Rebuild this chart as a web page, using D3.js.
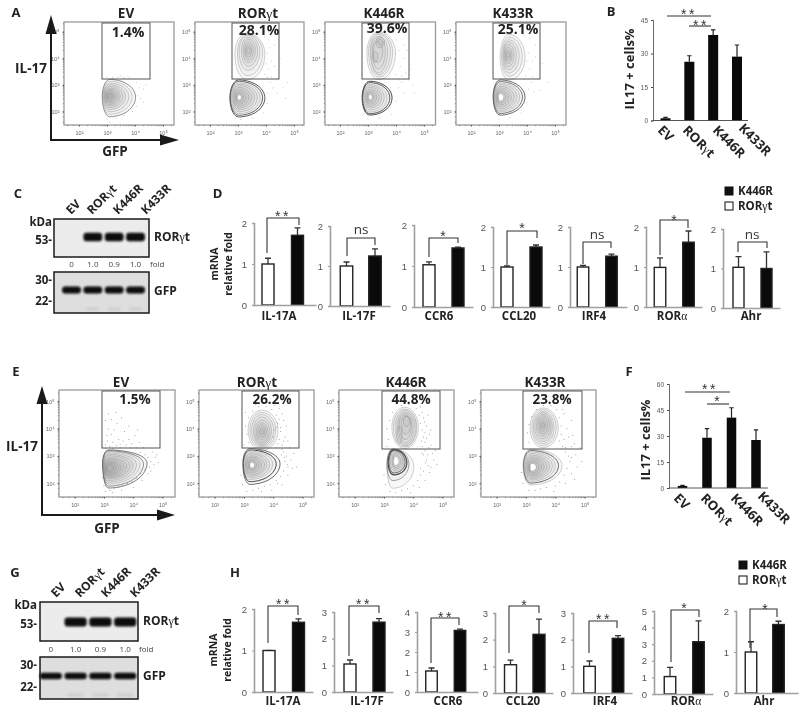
<!DOCTYPE html>
<html><head><meta charset="utf-8">
<script src="https://cdn.jsdelivr.net/npm/d3@7"></script>
<style>html,body{margin:0;padding:0;background:#fff}svg{display:block;filter:blur(.35px)}</style>
</head><body><script>
// ---------- bar-chart data ----------
const constructs=["EV","RORγt","K446R","K433R"];
const bValues=[1.0,26.3,38.3,28.6], bErrors=[1.4,29,40.6,33.8];
const fValues=[1.2,29,40.6,27.7], fErrors=[1.5,34.2,46.3,33.5];
const foldC=[0,1.0,0.9,1.0], foldG=[0,1.0,0.9,1.0];
const gfpBands=[1,1,1,1];
const markersD=["IL-17A","IL-17F","CCR6","CCL20","IRF4","RORα","Ahr"];
const maxD=[2,2,2,2,2,2,2];
const rorD=[1.0,1.0,1.03,1.0,1.0,0.99,1.03], rorErrD=[1.14,1.1,1.1,1.03,1.04,1.23,1.3];
const kD=[1.7,1.25,1.44,1.5,1.27,1.62,1.0], kErrD=[1.88,1.43,1.46,1.55,1.32,1.9,1.42];
const sigD=["**","ns","*","*","ns","*","ns"];
const markersH=["IL-17A","IL-17F","CCR6","CCL20","IRF4","RORα","Ahr"];
const maxH=[2,3,4,3,3,5,2];
const rorH=[1.0,1.05,1.05,1.06,1.0,1.05,1.0], rorErrH=[1.0,1.2,1.2,1.23,1.2,1.6,1.25];
const kH=[1.68,2.62,3.08,2.2,2.05,3.15,1.67], kErrH=[1.76,2.75,3.14,2.77,2.15,4.4,1.75];
const sigH=["**","**","**","*","**","*","*"];
const percentA=["1.4%","28.1%","39.6%","25.1%"], percentE=["1.5%","26.2%","44.8%","23.8%"];
const flowDecades=[2,3,4,5];

// ---------- flow contours, in decades: [centreX,centreY,left,right,top,bottom,(weight)] ----------
const ringsAEV=[[3.1,2.55,.27,.92,.66,.74,.6],[3.1,2.56,.25,.8,.58,.66],[3.1,2.57,.23,.68,.5,.58],[3.1,2.58,.21,.56,.43,.5],[3.1,2.58,.19,.46,.37,.43],[3.1,2.58,.17,.37,.31,.37],[3.1,2.58,.15,.29,.26,.31],[3.1,2.58,.13,.22,.21,.26],[3.1,2.58,.1,.16,.16,.2],[3.1,2.58,.08,.11,.11,.14],[3.1,2.58,.05,.06,.07,.08]];
const ringsARor=[[3.02,2.52,.31,.94,.67,.72,.9],[3.02,2.52,.29,.86,.62,.66,.8],[3.03,2.52,.27,.76,.56,.6],[3.03,2.53,.24,.66,.5,.54],[3.03,2.54,.21,.56,.44,.47],[3.03,2.54,.18,.46,.37,.4],[3.03,2.54,.15,.36,.3,.33],[3.03,2.54,.12,.26,.23,.26],[3.03,2.54,.09,.17,.16,.18],[3.03,2.54,.05,.09,.09,.1],
[3.32,4.15,.43,.64,.8,.95],[3.34,4.2,.36,.54,.7,.85],[3.34,4.25,.3,.44,.62,.7],[3.36,4.28,.24,.34,.52,.58],[3.36,4.3,.18,.26,.42,.46],[3.36,4.3,.13,.19,.32,.36],[3.36,4.3,.09,.13,.22,.25],[3.36,4.3,.05,.08,.12,.14]];
const ringsAK446=[[3.06,2.52,.27,.8,.62,.65,1],[3.06,2.52,.25,.72,.57,.6,.9],[3.06,2.52,.23,.62,.5,.54],[3.06,2.53,.2,.52,.44,.47],[3.07,2.54,.17,.42,.37,.4],[3.07,2.54,.14,.33,.3,.33],[3.07,2.54,.11,.24,.23,.26],[3.07,2.55,.08,.16,.16,.18],[3.07,2.55,.05,.08,.09,.1],
[3.38,4.2,.42,.6,.8,1.0],[3.38,4.25,.36,.5,.7,.95],[3.38,4.28,.3,.42,.62,.9],[3.36,4.3,.25,.34,.52,.85],[3.36,4.3,.2,.26,.44,.7],[3.33,4.25,.14,.2,.4,.4],[3.42,4.6,.13,.17,.22,.2],[3.43,4.6,.07,.1,.12,.1],[3.25,4.05,.08,.1,.2,.2]];
const ringsAK433=[[3.04,2.55,.25,.89,.64,.68,.8],[3.04,2.55,.23,.8,.58,.62,.7],[3.04,2.55,.21,.7,.52,.56],[3.04,2.55,.19,.6,.46,.5],[3.04,2.55,.16,.5,.4,.44],[3.04,2.55,.14,.4,.34,.37],[3.04,2.55,.11,.3,.27,.3],[3.04,2.55,.09,.21,.2,.23],[3.04,2.55,.06,.13,.13,.15],
[3.36,4.05,.32,.57,.85,.86],[3.36,4.08,.27,.47,.72,.75],[3.35,4.1,.22,.37,.6,.65],[3.34,4.12,.18,.28,.5,.55],[3.33,4.13,.14,.21,.4,.44],[3.32,4.13,.1,.15,.3,.33],[3.32,4.13,.07,.1,.2,.22],[3.32,4.13,.04,.06,.1,.12]];
const ringsEEV=[[3.15,2.75,.2,1.32,.47,.92,.7],[3.15,2.72,.19,1.2,.47,.82,.6],[3.15,2.72,.18,1.08,.44,.74],[3.15,2.7,.17,.96,.41,.66],[3.15,2.68,.16,.84,.38,.58],[3.15,2.66,.15,.74,.35,.5],[3.16,2.62,.14,.62,.32,.42],[3.16,2.6,.13,.52,.29,.36],[3.16,2.58,.12,.42,.25,.3],[3.17,2.57,.1,.33,.21,.25],[3.17,2.57,.08,.24,.17,.2],[3.17,2.57,.06,.16,.12,.15]];
const ringsERor=[[3.2,2.72,.24,1.03,.55,.76,.8],[3.2,2.72,.22,.9,.5,.66,1],[3.2,2.72,.2,.78,.46,.58],[3.22,2.7,.19,.66,.42,.5],[3.22,2.7,.17,.56,.38,.44],[3.24,2.68,.16,.46,.33,.37],[3.24,2.68,.14,.36,.28,.3],[3.25,2.68,.11,.27,.22,.24],[3.25,2.68,.09,.18,.16,.18],[3.26,2.67,.06,.1,.1,.11],
[3.6,3.95,.46,.56,.73,.75],[3.6,3.95,.4,.48,.65,.68],[3.6,3.95,.34,.41,.57,.62],[3.6,3.93,.28,.34,.5,.55],[3.6,3.9,.23,.28,.42,.48],[3.6,3.88,.18,.22,.34,.4],[3.6,3.88,.13,.16,.26,.3],[3.61,3.88,.08,.1,.17,.2],[3.61,3.88,.04,.06,.08,.1]];
const ringsEK446=[[3.3,2.6,.2,.72,.65,.78],[3.3,2.7,.2,.55,.56,.6,.5],[3.34,2.75,.2,.44,.48,.44,1.2],[3.34,2.76,.17,.38,.44,.38,.8],[3.36,2.78,.14,.32,.38,.33],[3.38,2.8,.11,.26,.32,.28],[3.38,2.8,.08,.2,.25,.22],[3.38,2.8,.05,.13,.18,.15],
[3.7,4.05,.43,.47,.74,.78],[3.7,4.05,.38,.42,.67,.72],[3.72,4.08,.34,.37,.6,.72],[3.72,4.1,.28,.32,.52,.7],[3.72,4.12,.24,.27,.45,.65],[3.72,4.15,.2,.22,.36,.55],[3.74,4.2,.15,.17,.26,.4],[3.76,4.3,.1,.12,.16,.22],[3.52,3.8,.09,.1,.3,.35]];
const ringsEK433=[[3.15,2.65,.25,1.08,.6,.71],[3.15,2.65,.23,.96,.55,.64,.8],[3.15,2.65,.21,.85,.5,.58],[3.16,2.64,.19,.74,.45,.52],[3.17,2.63,.17,.63,.4,.46],[3.18,2.62,.15,.53,.35,.4],[3.19,2.61,.13,.43,.3,.34],[3.2,2.6,.11,.33,.25,.28],[3.2,2.6,.09,.24,.19,.22],[3.2,2.6,.06,.15,.13,.15],
[3.58,4.03,.44,.52,.73,.73],[3.58,4.05,.38,.45,.65,.68],[3.58,4.05,.33,.38,.58,.6],[3.58,4.08,.28,.32,.5,.55],[3.58,4.1,.23,.27,.42,.47],[3.58,4.13,.18,.22,.34,.4],[3.58,4.13,.13,.16,.26,.32],[3.58,4.13,.08,.1,.17,.22],[3.58,4.13,.04,.05,.09,.12]];

// ---------- flow events outside the contours, in decades: [x,y] ----------
const dotsAEV=[[3.0,3.3],[3.2,3.28],[3.4,3.3],[3.6,3.27],[3.8,3.25],[4.05,3.1],[4.15,2.9],[4.3,2.85],[4.1,2.6],[4.2,2.5],[4.4,3.0],[3.9,2.0],[3.6,1.85],[3.3,1.75],[3.0,1.72],[3.1,1.6],[3.75,3.32],[4.05,2.2],[4.3,2.35],[3.5,3.35]];
const dotsARor=[[3.95,3.4],[4.1,3.6],[4.2,3.9],[4.05,4.2],[4.3,4.5],[4.1,4.7],[3.95,4.8],[4.4,3.2],[4.15,3.1],[4.25,2.9],[4.05,2.7],[4.4,2.7],[4.6,2.9],[4.05,2.3],[3.9,1.95],[3.5,1.75],[3.1,1.7],[2.9,1.75],[4.2,3.3],[4.5,4.0],[4.3,3.7],[4.0,3.8],[4.15,4.4],[4.05,3.3],[4.75,3.1],[4.7,2.5]];
const dotsAK446=[[4.0,3.4],[4.15,3.7],[4.3,4.0],[4.1,4.3],[4.3,4.5],[4.0,4.7],[4.45,3.2],[4.2,3.1],[4.1,2.9],[4.3,2.7],[4.0,2.4],[3.85,1.9],[3.4,1.75],[3.0,1.72],[4.5,3.6],[4.2,3.35],[4.6,3.0],[4.4,4.3],[4.1,3.2],[4.35,3.45],[2.85,1.9],[4.65,2.7]];
const dotsAK433=[[3.95,3.35],[4.1,3.6],[4.2,3.9],[4.05,4.2],[4.3,4.5],[4.1,4.75],[3.9,4.85],[4.4,3.2],[4.15,3.1],[4.05,2.85],[4.25,2.75],[4.0,2.35],[3.8,1.95],[3.4,1.78],[3.0,1.72],[4.2,3.3],[4.55,3.8],[4.45,2.8],[4.0,3.9],[4.3,4.05],[4.75,3.1],[3.6,3.6]];
const dotsEEV=[[3.05,3.4],[3.12,3.55],[3.2,3.35],[3.3,3.5],[3.42,3.38],[3.5,3.6],[3.1,3.75],[3.25,3.8],[3.35,3.95],[3.15,4.0],[3.55,3.42],[3.65,3.55],[3.75,3.4],[3.85,3.6],[3.95,3.45],[4.05,3.75],[4.2,3.5],[3.7,3.9],[3.45,4.2],[3.6,4.4],[3.25,4.35],[3.85,4.1],[4.15,3.95],[3.4,4.6],[3.15,4.55],[3.05,4.3],[3.55,3.3],[3.3,3.28],[3.05,3.27],[3.9,3.3],[4.1,3.3],[4.25,3.15],[4.4,3.05],[4.5,2.95],[4.6,2.8],[4.7,2.7],[4.55,2.6],[4.75,2.95],[4.4,2.5],[4.5,2.35],[4.25,2.35],[4.1,2.2],[3.95,2.05],[3.8,2.0],[3.65,1.92],[3.5,1.85],[3.35,1.8],[3.2,1.75],[3.05,1.7],[3.3,1.65],[3.0,1.9],[2.95,2.2],[4.3,2.1],[4.0,1.85],[3.6,1.75],[4.85,2.75],[4.6,2.45],[4.65,3.15],[4.35,3.3],[4.8,3.05]];
const dotsERor=[[3.15,3.5],[3.1,3.8],[3.05,4.1],[3.15,4.4],[3.3,4.65],[3.5,4.8],[3.75,4.8],[3.95,4.7],[4.1,4.5],[4.15,4.2],[4.25,3.9],[4.2,3.6],[4.3,3.4],[4.1,3.3],[4.35,3.15],[4.45,3.0],[4.4,2.8],[4.5,2.6],[4.35,2.45],[4.25,2.25],[4.1,2.1],[3.9,1.95],[3.7,1.9],[3.5,1.82],[3.3,1.75],[3.1,1.7],[2.95,1.95],[2.9,2.3],[4.4,3.7],[4.45,4.1],[4.3,4.55],[4.05,4.85],[3.8,4.95],[3.4,4.9],[4.2,4.75],[4.55,3.3],[4.6,2.85],[4.7,3.1],[4.5,2.3],[4.3,1.95],[3.95,1.75],[3.6,1.7],[4.0,3.7],[4.05,3.95],[4.3,3.25],[4.5,3.55],[4.25,4.05],[4.35,3.55],[4.15,3.45],[4.38,2.95],[4.28,3.05],[3.05,4.6],[3.0,3.4],[4.8,2.6],[4.65,2.55],[4.15,2.0],[4.1,4.05],[4.2,4.35],[4.35,4.3],[4.48,2.7]];
const dotsEK446=[[3.15,3.6],[3.1,4.0],[3.2,4.3],[3.3,4.6],[3.6,4.85],[3.85,4.9],[4.1,4.75],[4.2,4.5],[4.25,4.2],[4.3,3.95],[4.35,3.7],[4.4,3.5],[4.3,3.35],[4.4,3.2],[4.5,3.05],[4.45,2.85],[4.5,2.65],[4.35,2.45],[4.25,2.3],[4.15,2.1],[4.0,1.9],[3.8,1.8],[3.6,1.75],[3.4,1.65],[3.2,1.7],[3.05,1.95],[3.0,2.3],[4.45,4.1],[4.55,3.8],[4.6,3.4],[4.65,3.1],[4.7,2.85],[4.55,2.4],[4.4,2.1],[4.2,1.85],[3.9,1.65],[4.35,4.4],[4.25,4.8],[4.0,5.0],[4.4,3.85],[4.28,3.55],[4.52,3.3],[4.3,3.1],[4.38,4.25],[4.45,3.65],[4.6,3.95],[4.35,3.05],[4.25,2.55],[4.6,2.6],[4.75,3.2],[4.8,2.7],[4.3,4.6],[4.15,4.95],[4.5,4.5],[3.1,3.35],[4.42,2.75]];
const dotsEK433=[[3.1,3.5],[3.05,3.85],[3.1,4.15],[3.2,4.45],[3.35,4.7],[3.6,4.85],[3.85,4.85],[4.05,4.7],[4.15,4.4],[4.2,4.1],[4.2,3.8],[4.15,3.55],[4.25,3.35],[4.35,3.15],[4.45,3.0],[4.5,2.8],[4.4,2.55],[4.3,2.3],[4.15,2.05],[4.0,1.9],[3.7,1.85],[3.5,1.8],[3.3,1.75],[3.1,1.75],[2.9,2.0],[2.85,2.4],[4.4,4.0],[4.3,3.6],[4.55,3.35],[4.7,3.05],[4.75,2.6],[4.55,2.35],[4.35,2.0],[3.95,1.7],[4.3,4.55],[4.55,4.3],[4.85,3.3],[4.9,2.8],[4.65,2.15],[4.45,3.7],[4.25,4.7],[3.95,5.0],[4.6,3.75],[4.35,3.3],[4.55,2.95],[4.65,3.45]];

// ---------- page layout (pixels) ----------
const SANS='"Open Sans","Noto Sans",sans-serif', ARIAL='"Liberation Sans",sans-serif';
const svg=d3.select("body").append("svg").attr("width",800).attr("height",713).attr("viewBox","0 0 800 713");
const root=svg.append("g");
const defs=svg.append("defs");
defs.append("filter").attr("id","blotBlur").attr("x","-30%").attr("y","-60%").attr("width","160%").attr("height","220%")
  .append("feGaussianBlur").attr("stdDeviation",1.1);

function T(g,x,y,s,o={}){
  const {size=12,weight=700,anchor="middle",fill="#222",rot=0,family=SANS,spacing=null}=o;
  const t=g.append("text").attr("transform",`translate(${x},${y}) rotate(${rot})`)
    .attr("text-anchor",anchor).attr("font-size",size).attr("font-weight",weight).attr("font-family",family).attr("fill",fill);
  if(spacing!==null)t.attr("letter-spacing",spacing);
  s.split(/([γα])/).forEach(p=>{
    if(!p)return;
    const sp=t.append("tspan").text(p);
    if(p==="γ"||p==="α")sp.attr("font-family",'"Liberation Serif",serif').attr("font-weight",400);
  });
  return t;
}
function stars(g,x,y,s){ // y = visual centre of the asterisks
  if(s==="ns"){T(g,x,y,s,{size:13.5,weight:400,fill:"#333",family:SANS});return;}
  T(g,x,y+8,s,{size:14,weight:400,fill:"#333",family:ARIAL,spacing:s.length>1?2.5:0});
}

// ---------- flow plots ----------
const ringPath=d3.line().curve(d3.curveCatmullRomClosed);
const ringAngles=d3.range(0,360,20);
function flowPlot(p){
  const g=root.append("g");
  const x=d3.scaleLinear().domain([3,4]).range([p.x3,p.x3+p.dx]);
  const y=d3.scaleLinear().domain([3,4]).range([p.y3,p.y3-p.dy]);
  g.append("rect").attr("x",p.left).attr("y",p.top).attr("width",p.right-p.left).attr("height",p.bottom-p.top)
    .attr("fill","#fff").attr("stroke","#9a9a9a").attr("stroke-width",1.3);
  // events
  g.append("g").selectAll("circle").data(p.dots).join("circle")
    .attr("cx",d=>x(d[0])).attr("cy",d=>y(d[1])).attr("r",.5).attr("fill","#444").attr("opacity",p.dotOp);
  // contours: a faint fill accumulates towards the dense core, the innermost ring stays white
  const core=new Set([p.rings.findIndex((r,i)=>i>0&&p.rings[i+1]&&p.rings[i+1][3]>r[3])]);
  g.append("g").selectAll("path").data(p.rings).join("path")
    .attr("d",r=>ringPath(ringAngles.map(a=>{
      const c=Math.cos(a*Math.PI/180),s=Math.sin(a*Math.PI/180);
      return [x(r[0]+(c>=0?r[3]:r[2])*c),y(r[1]+(s>=0?r[4]:r[5])*s)];
    })))
    .attr("fill",(r,i)=>core.has(i)?"#fff":"rgba(0,0,0,.028)").attr("stroke",r=>r[6]?"#484848":"#8a8a8a").attr("stroke-width",r=>r[6]||.42);
  // axes
  const tickFmt=d=>"10"+({2:"²",3:"³",4:"⁴",5:"⁵"})[d];
  const xa=d3.axisBottom(d3.scaleLinear().domain(x.domain()).range(x.range())).tickValues(flowDecades).tickFormat(tickFmt).tickSize(1.5).tickPadding(p.bottomPad);
  const ya=d3.axisLeft(d3.scaleLinear().domain(y.domain()).range(y.range())).tickValues(flowDecades).tickFormat(tickFmt).tickSize(1.5).tickPadding(p.leftPad);
  const ax=g.append("g").attr("transform",`translate(0,${p.bottom})`).call(xa);
  const ay=g.append("g").attr("transform",`translate(${p.left},0)`).call(ya);
  [ax,ay].forEach(a=>{a.select(".domain").remove();a.selectAll("line").attr("stroke","#444").attr("stroke-width",.8);
    a.selectAll("text").attr("font-family",ARIAL).attr("font-size",5.5).attr("fill","#666");});
  // minor ticks along box edges
  const minors=[1.6,1.8,2,2.3,2.48,2.6,2.7,2.78,2.85,2.9,2.95,3,3.3,3.48,3.6,3.7,3.78,3.85,3.9,3.95,4,4.3,4.48,4.6,4.7,4.78,4.85,4.9,4.95,5,5.3];
  g.append("g").selectAll("line").data(minors.filter(d=>x(d)>p.left&&x(d)<p.right)).join("line")
    .attr("x1",d=>x(d)).attr("x2",d=>x(d)).attr("y1",p.bottom).attr("y2",p.bottom+1.2).attr("stroke","#555").attr("stroke-width",.5);
  g.append("g").selectAll("line").data(minors.filter(d=>y(d)>p.top&&y(d)<p.bottom)).join("line")
    .attr("y1",d=>y(d)).attr("y2",d=>y(d)).attr("x1",p.left).attr("x2",p.left-1.2).attr("stroke","#555").attr("stroke-width",.5);
  // gate
  g.append("rect").attr("x",p.gate[0]).attr("y",p.gate[1]).attr("width",p.gate[2]-p.gate[0]).attr("height",p.gate[3]-p.gate[1])
    .attr("fill","none").attr("stroke","#555").attr("stroke-width",1);
  T(g,p.nameX,p.nameY,p.name,{size:p.nameSize});
  T(g,p.pctX,p.pctY,p.pct,{size:p.pctSize,weight:700,fill:"#222"});
}
const flowA=[
 {left:64,right:174,x3:107,gate:[102,23,150,79],nameX:126,pctX:128,pctY:37,rings:ringsAEV,dots:dotsAEV},
 {left:195,right:304,x3:238,gate:[232,23,279,79],nameX:258,pctX:259,pctY:35,rings:ringsARor,dots:dotsARor},
 {left:325,right:435.5,x3:368,gate:[362,23,409,79],nameX:384,pctX:387,pctY:33,rings:ringsAK446,dots:dotsAK446},
 {left:456,right:566,x3:499,gate:[493,23,540,79],nameX:513,pctX:518,pctY:34,rings:ringsAK433,dots:dotsAK433}];
flowA.forEach((p,i)=>flowPlot(Object.assign(p,{top:22,bottom:125,dx:28,dy:26.6,y3:85,name:constructs[i],pct:percentA[i],nameY:18,nameSize:13.5,pctSize:14,dotOp:.38,bottomPad:5,leftPad:3})));
const flowE=[
 {left:59,right:175,x3:104,gate:[102,391,160,448],nameX:121,pctX:135,pctY:403.5,rings:ringsEEV,dots:dotsEEV},
 {left:199,right:314,x3:244,gate:[242,391,299,448],nameX:257,pctX:272,pctY:403.5,rings:ringsERor,dots:dotsERor},
 {left:339,right:454,x3:384,gate:[382,391,440,449],nameX:406,pctX:411,pctY:403.5,rings:ringsEK446,dots:dotsEK446},
 {left:481,right:596,x3:526,gate:[523,391,582,449],nameX:545,pctX:552,pctY:403.5,rings:ringsEK433,dots:dotsEK433}];
flowE.forEach((p,i)=>flowPlot(Object.assign(p,{top:390,bottom:497,dx:29.3,dy:27.3,y3:456,name:constructs[i],pct:percentE[i],nameY:386.5,nameSize:13.5,pctSize:13.5,dotOp:.62,bottomPad:5,leftPad:3})));

// ---------- axis arrows ----------
function arrows(ax,ay,top,right,headLen,headHalf){
  const g=root.append("g");
  g.append("path").attr("d",`M${ax},${top+headLen-1}V${ay}H${right-headLen+1}`).attr("fill","none").attr("stroke","#1a1a1a").attr("stroke-width",2);
  g.append("path").attr("d",`M${ax},${top}L${ax+headHalf},${top+headLen}H${ax-headHalf}Z`).attr("fill","#1a1a1a");
  g.append("path").attr("d",`M${right},${ay}L${right-headLen},${ay-headHalf}V${ay+headHalf}Z`).attr("fill","#1a1a1a");
}
arrows(51,140,15,179,19,5.5);
arrows(42,515,386,175,18,5.5);
T(root,31,73,"IL-17",{size:13.5});T(root,115,156,"GFP",{size:13.5});
T(root,22,451,"IL-17",{size:13.5});T(root,107,533,"GFP",{size:13.5});

// ---------- panel letters ----------
[["A",16,17],["B",611,16],["C",18,198],["D",217.5,198],["E",16,376],["F",629,376],["G",15,577],["H",235,577]]
  .forEach(d=>T(root,d[1],d[2],d[0],{size:13}));

// ---------- percentage bar panels B, F ----------
function pctPanel(p){
  const g=root.append("g");
  const y=d3.scaleLinear().domain([0,p.max]).range([p.y0,p.yTop]);
  const x=d3.scalePoint().domain(constructs).range(p.centers);
  g.selectAll("rect").data(p.values).join("rect")
    .attr("x",(d,i)=>x(constructs[i])-p.bw/2).attr("width",p.bw).attr("y",d=>y(d)).attr("height",d=>p.y0-y(d)).attr("fill","#0a0a0a");
  p.errors.forEach((e,i)=>{
    const cx=x(constructs[i]);
    g.append("path").attr("d",`M${cx},${y(p.values[i])}V${y(e)}M${cx-2.2},${y(e)}H${cx+2.2}`).attr("stroke","#222").attr("stroke-width",1.2).attr("fill","none");
  });
  const ya=d3.axisLeft(y).tickValues(p.ticks).tickSize(2).tickPadding(3);
  const a=g.append("g").attr("transform",`translate(${p.ax},0)`).call(ya);
  a.select(".domain").attr("stroke","#444").attr("stroke-width",.8);
  a.selectAll("line").attr("stroke","#444");
  a.selectAll("text").attr("font-family",ARIAL).attr("font-size",6.5).attr("fill","#555");
  g.append("line").attr("x1",p.ax).attr("x2",p.xe).attr("y1",p.y0).attr("y2",p.y0).attr("stroke","#444").attr("stroke-width",.9);
  p.origins.forEach((o,i)=>T(g,o[0],o[1],constructs[i],{size:p.lab,rot:45,anchor:"start"}));
  T(g,p.labelX,p.labelY,"IL17 + cells%",{size:13,rot:-90,anchor:"middle"});
  p.bars.forEach(b=>{
    g.append("line").attr("x1",b[0]).attr("x2",b[1]).attr("y1",b[2]).attr("y2",b[2]).attr("stroke","#333").attr("stroke-width",1.1);
    stars(g,b[3],b[4],b[5]);
  });
}
pctPanel({ax:653,xe:748,y0:120.5,yTop:20,max:45,ticks:[0,15,30,45],centers:[665.5,737],bw:10,values:bValues,errors:bErrors,lab:13,
  origins:[[657,131],[682,131],[712,131],[738,129]],labelX:634,labelY:69,
  bars:[[667,711,16,689,11,"**"],[689,711,26,701,22,"**"]]});
pctPanel({ax:669,xe:768,y0:488,yTop:384,max:60,ticks:[0,15,30,45,60],centers:[682.5,756],bw:9.5,values:fValues,errors:fErrors,lab:13,
  origins:[[673,499],[700,499],[730,499],[757,497]],labelX:650,labelY:440,
  bars:[[685,730,392,710,386,"**"],[707,729,404,717,398,"*"]]});

// ---------- western blots ----------
function blot(p){
  const g=root.append("g");
  const x=d3.scaleBand().domain(constructs).range(p.range).padding(.03);
  const panel=(top,bottom,fill,vals,bandY,bandH,ghost)=>{
    g.append("rect").attr("x",p.left).attr("y",top).attr("width",p.right-p.left).attr("height",bottom-top).attr("fill",fill).attr("stroke","#1a1a1a").attr("stroke-width",1.5);
    const sc=d3.scaleLinear().domain([0,1]).range([0,bandH]);
    const b=g.append("g").attr("filter","url(#blotBlur)");
    vals.forEach((v,i)=>{ if(v>0){
      b.append("rect").attr("x",x(constructs[i])+1).attr("width",x.bandwidth()-2).attr("y",bandY-sc(v)/2).attr("height",sc(v)).attr("rx",3).attr("fill","#080808");
      if(ghost&&i>0)b.append("rect").attr("x",x(constructs[i])+4).attr("width",x.bandwidth()-8).attr("y",bottom-6).attr("height",4).attr("fill","#000").attr("opacity",.06);
    }});
  };
  panel(p.t1,p.b1,"#ececec",p.fold.map(v=>v>0?1:0),p.by1,p.bh1,false);
  panel(p.t2,p.b2,"#dedede",gfpBands,p.by2,p.bh2,true);
  const bold={size:11.5};
  T(g,p.tickEnd,p.kdaY,"kDa",{...bold,anchor:"end"});
  T(g,p.tickEnd,p.y53,"53-",{...bold,anchor:"end"});
  T(g,p.tickEnd,p.y30,"30-",{...bold,anchor:"end"});
  T(g,p.tickEnd,p.y22,"22-",{...bold,anchor:"end"});
  T(g,p.sideX,p.sideY1,"RORγt",{size:12,anchor:"start"});
  T(g,p.sideX,p.sideY2,"GFP",{size:12,anchor:"start"});
  p.fold.forEach((v,i)=>T(g,x(constructs[i])+x.bandwidth()/2,p.foldY,v===0?"0":v.toFixed(1),{size:8,weight:400,fill:"#444"}));
  T(g,p.sideX-4,p.foldY,"fold",{size:8,weight:400,fill:"#444",anchor:"start"});
  p.heads.forEach((o,i)=>T(g,o[0],o[1],constructs[i],{size:12,rot:-45,anchor:"start"}));
}
blot({left:54,right:149,t1:219,b1:257,t2:272,b2:313,range:[60.5,146.5],fold:foldC,by1:237,bh1:8.5,by2:290,bh2:7,
  tickEnd:52,kdaY:226,y53:244,y30:284,y22:305,sideX:154,sideY1:241,sideY2:295,foldY:267,
  heads:[[71,215],[92,215],[118,215],[146,215]]});
blot({left:40,right:138,t1:602,b1:641,t2:657,b2:699,range:[38,138],fold:foldG,by1:622,bh1:9,by2:676,bh2:6.5,
  tickEnd:37,kdaY:609,y53:628,y30:669,y22:691,sideX:143,sideY1:625,sideY2:680,foldY:652,
  heads:[[56,598],[80,598],[106,598],[135,598]]});

// ---------- mRNA small multiples D, H ----------
const pair=["RORγt","K446R"];
function mrna(l,i,a){
  const g=root.append("g");
  const y=d3.scaleLinear().domain([0,a.max[i]]).range([l.y0,l.yT]);
  const x=d3.scalePoint().domain(pair).range([l.wc,l.bc]);
  [[a.ror,a.rorE,"#fff",pair[0]],[a.k,a.kE,"#0a0a0a",pair[1]]].forEach(s=>{
    const cx=x(s[3]);
    g.append("path").attr("d",`M${cx},${y(s[0][i])}V${y(s[1][i])}M${cx-3},${y(s[1][i])}H${cx+3}`).attr("stroke","#333").attr("stroke-width",1.3).attr("fill","none");
    g.append("rect").attr("x",cx-l.bw/2).attr("width",l.bw).attr("y",y(s[0][i])).attr("height",l.y0-y(s[0][i]))
      .attr("fill",s[2]).attr("stroke","#222").attr("stroke-width",1.4);
  });
  const ya=d3.axisLeft(y).tickValues(d3.range(0,a.max[i]+1)).tickFormat(d3.format("d")).tickSize(2).tickPadding(5);
  const ag=g.append("g").attr("transform",`translate(${l.ax},0)`).call(ya);
  ag.select(".domain").attr("stroke","#a0a0a0").attr("stroke-width",1.6);
  ag.selectAll("line").attr("stroke","#a0a0a0").attr("stroke-width",1.2);
  ag.selectAll("text").attr("font-family",ARIAL).attr("font-size",9.5).attr("fill","#555");
  const xa=d3.axisBottom(d3.scaleLinear().range([l.ax,l.xe])).tickValues([]).tickSizeOuter(0);
  const bg=g.append("g").attr("transform",`translate(0,${l.y0})`).call(xa);
  bg.select(".domain").attr("stroke","#a0a0a0").attr("stroke-width",1.6);
  g.append("path").attr("d",`M${l.brL},${l.brLb}V${l.brT}H${l.brR}V${l.brRb}`).attr("fill","none").attr("stroke","#333").attr("stroke-width",1.1);
  stars(g,l.sx,l.sy,a.sig[i]);
  T(g,l.lx,a.labY,a.names[i],{size:11.5});
}
const K=["ax","yT","y0","xe","wc","bc","bw","brT","brL","brLb","brR","brRb","sx","sy","lx"];
const layoutD=[[254,223,305,316,268,297.5,12,218,267,253,299,225,283,213,279],[330,226,306,390,346.5,375,12.5,238,347,256,375,245,361,234,359],[414,225,307,473,429,458,12,238,429,257,458,243,443,233,439],[493,227,307,550,507,536,12,231,507,265,537,238,522,225,519],[570,227,307,627,583,611.5,11.5,242,583,264,611,248,597,239,594],[646,227,307,702,660,688.5,11.5,220,660,255,688,228,674,217,672],[723,229,308,780,738.5,766.5,11,242,738,252,767,248,752,239,751]];
const layoutH=[[254,609,692,313,269,298.5,12,606,268,643,298,615,284,601,283],[334,612,692,393,350,379,12,606,349,656,379,613,364,601,367],[417,612,692,478,431.5,460,11.5,618,431,663,459,625,446,614,448],[495,613,693,553,510.5,539,12,606,509,653,539,613,524,602,523],[573,613,693,632,589.5,618,11.5,621,589,653,617,628,604,616,605],[654,611,694,713,670,698.5,11.5,610,671,662,699,617,684,605,686],[736,611,693,798,751,778.5,11.5,609,750,648,777,617,765,606,764]];
const toObj=r=>Object.fromEntries(K.map((k,i)=>[k,r[i]]));
layoutD.map(toObj).forEach((l,i)=>mrna(l,i,{max:maxD,ror:rorD,rorE:rorErrD,k:kD,kE:kErrD,sig:sigD,names:markersD,labY:320}));
layoutH.map(toObj).forEach((l,i)=>mrna(l,i,{max:maxH,ror:rorH,rorE:rorErrH,k:kH,kE:kErrH,sig:sigH,names:markersH,labY:705}));
[[218,264,232,264],[217,650,231,650]].forEach(d=>{
  T(root,d[0],d[1],"mRNA",{size:10.5,rot:-90});
  T(root,d[2],d[3],"relative fold",{size:10.5,rot:-90});
});
// legends
[[725,187,202,738,195,210],[739,561,576,752,569,584]].forEach(d=>{
  root.append("rect").attr("x",d[0]).attr("y",d[1]).attr("width",8).attr("height",8).attr("fill","#111").attr("stroke","#111");
  root.append("rect").attr("x",d[0]).attr("y",d[2]).attr("width",8).attr("height",8).attr("fill","#fff").attr("stroke","#222").attr("stroke-width",1.1);
  T(root,d[3],d[4],pair[1],{size:11.5,anchor:"start"});
  T(root,d[3],d[5],pair[0],{size:11.5,anchor:"start"});
});
</script></body></html>
